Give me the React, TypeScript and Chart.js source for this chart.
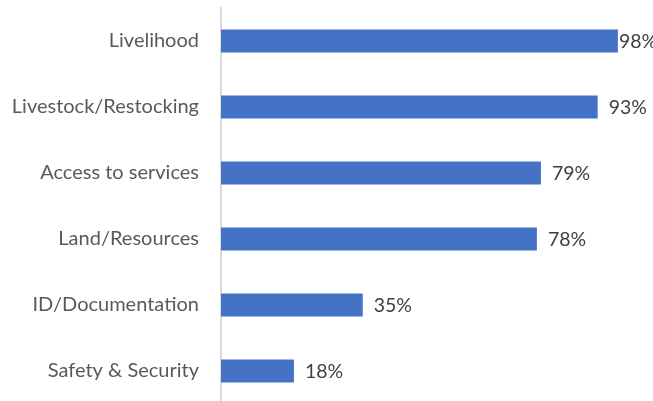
import React, { useEffect, useRef } from "react";
import { Chart, registerables } from "chart.js";

Chart.register(...registerables);

const categories = [
  "Livelihood",
  "Livestock/Restocking",
  "Access to services",
  "Land/Resources",
  "ID/Documentation",
  "Safety & Security",
];
const values = [98, 93, 79, 78, 35, 18];
const valueLabels = ["98%", "93%", "79%", "78%", "35%", "18%"];

const FONT = "Lato, 'Open Sans', sans-serif";

const valueLabelPlugin = {
  id: "valueLabels",
  afterDatasetsDraw(chart: any) {
    const ctx = chart.ctx;
    const meta = chart.getDatasetMeta(0);
    ctx.save();
    ctx.font = `19.5px ${FONT}`;
    ctx.fillStyle = "#404040";
    ctx.textAlign = "left";
    ctx.textBaseline = "middle";
    meta.data.forEach((bar: any, i: number) => {
      const w = ctx.measureText(valueLabels[i]).width;
      const x = Math.min(bar.x + 11, Math.max(bar.x + 1, chart.width - w + 3));
      ctx.fillText(valueLabels[i], x, bar.y + 1);
    });
    ctx.restore();
  },
};

export default function App() {
  const ref = useRef<HTMLCanvasElement>(null);
  useEffect(() => {
    document.body.style.margin = "0";
    const chart = new Chart(ref.current!, {
      type: "bar",
      data: {
        labels: categories,
        datasets: [
          {
            data: values,
            backgroundColor: "#4472C4",
            barPercentage: 0.7,
            categoryPercentage: 0.5,
          },
        ],
      },
      options: {
        indexAxis: "y",
        animation: false,
        responsive: false,
        devicePixelRatio: 1,
        layout: { padding: { top: 8, right: 27, bottom: 0, left: 0 } },
        plugins: { legend: { display: false }, tooltip: { enabled: false } },
        scales: {
          x: { display: false, min: 0, max: 100 },
          y: {
            grid: { display: false },
            border: { color: "#d9d9d9", width: 2 },
            ticks: {
              color: "#595959",
              padding: 14,
              font: { family: FONT, size: 20 },
            },
            afterFit: (scale: any) => {
              scale.width = 221;
              scale.paddingTop = 0;
              scale.paddingBottom = 0;
            },
          },
        },
      },
      plugins: [valueLabelPlugin],
    });
    return () => chart.destroy();
  }, []);
  return (
    <div style={{ position: "fixed", left: 0, top: 0, width: 653, height: 401, overflow: "hidden", background: "#fff" }}>
      <canvas ref={ref} width={653} height={404} style={{ display: "block" }} />
    </div>
  );
}
